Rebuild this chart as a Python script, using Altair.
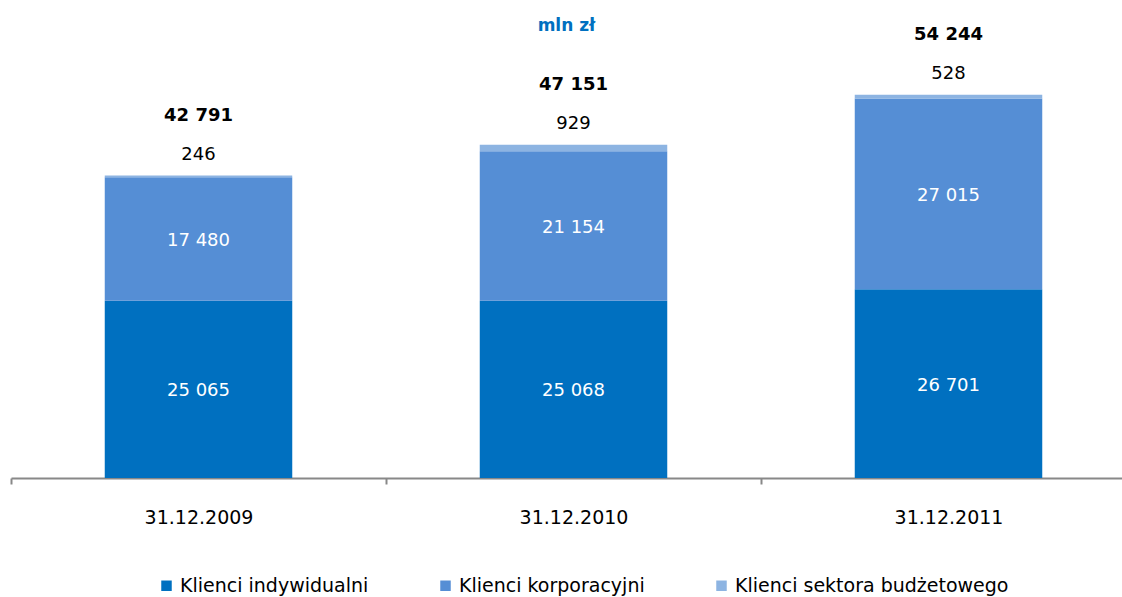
import altair as alt
import pandas as pd

dates = ["31.12.2009", "31.12.2010", "31.12.2011"]
series = ["Klienci indywidualni", "Klienci korporacyjni", "Klienci sektora budżetowego"]
indywidualni = [25065, 25068, 26701]
korporacyjni = [17480, 21154, 27015]
budzetowi = [246, 929, 528]
totals = [42791, 47151, 54244]
colors = ["#0070C0", "#558ED5", "#8DB4E2"]


def fmt(v):
    return f"{v:,}".replace(",", "\u00a0")


rows = []
for i, d in enumerate(dates):
    base = 0
    for s, vals in zip(series, [indywidualni, korporacyjni, budzetowi]):
        v = vals[i]
        rows.append(dict(date=d, series=s, value=v, start=base, end=base + v,
                         mid=base + v / 2, label=fmt(v)))
        base += v
df = pd.DataFrame(rows)
tot = pd.DataFrame(dict(date=dates, total=totals, label=[fmt(t) for t in totals]))

FONT = "DejaVu Sans"

x = alt.X(
    "date:N",
    sort=dates,
    scale=alt.Scale(range=[0, 1125], paddingInner=0.5, paddingOuter=0.25),
    axis=alt.Axis(
        title=None, labelAngle=0, labelFontSize=19, labelColor="#000000", labelFont=FONT,
        domainColor="#888888", domainWidth=2, tickColor="#888888", tickWidth=2,
        tickSize=6, tickOffset=-187.5, labelOffset=187.5, labelPadding=24,
    ),
)
yscale = alt.Scale(domain=[0, 60000], nice=False)

bars = alt.Chart(df).mark_bar().encode(
    x=x,
    y=alt.Y("start:Q", scale=yscale, axis=None),
    y2="end:Q",
    color=alt.Color(
        "series:N",
        scale=alt.Scale(domain=series, range=colors),
        legend=alt.Legend(
            title=None, orient="none", direction="horizontal", legendX=146, legendY=522,
            symbolType="square", symbolSize=110, symbolStrokeWidth=0, labelFontSize=19,
            labelFont=FONT, labelColor="#000000", columnPadding=67, labelOffset=4,
            padding=0, labelLimit=400,
        ),
    ),
)

inner = alt.Chart(df).transform_filter(
    alt.FieldOneOfPredicate(field="series", oneOf=series[:2])
).mark_text(color="white", fontSize=18, font=FONT, baseline="middle", dy=2).encode(
    x=x, y=alt.Y("mid:Q", scale=yscale), text="label:N"
)

top_lbl = alt.Chart(df).transform_filter(
    alt.FieldEqualPredicate(field="series", equal=series[2])
).mark_text(color="black", fontSize=18, font=FONT, baseline="middle", dy=-21).encode(
    x=x, y=alt.Y("end:Q", scale=yscale), text="label:N"
)

tot_lbl = alt.Chart(tot).mark_text(
    color="black", fontSize=18, font=FONT, fontWeight="bold", baseline="middle", dy=-60
).encode(x=x, y=alt.Y("total:Q", scale=yscale), text="label:N")

chart = alt.layer(bars, inner, top_lbl, tot_lbl).properties(
    width=1111,
    height=424,
    autosize=alt.AutoSizeParams(type="none"),
    padding={"left": 11, "top": 54, "right": 0, "bottom": 119},
    title=alt.TitleParams("mln zł", fontSize=17, font=FONT, fontWeight="bold",
                          color="#0070C0", anchor="middle", frame="group", offset=-9),
).configure(background="white").configure_view(stroke=None)

chart.save("out.html", embed_options={"renderer": "svg", "actions": False})
